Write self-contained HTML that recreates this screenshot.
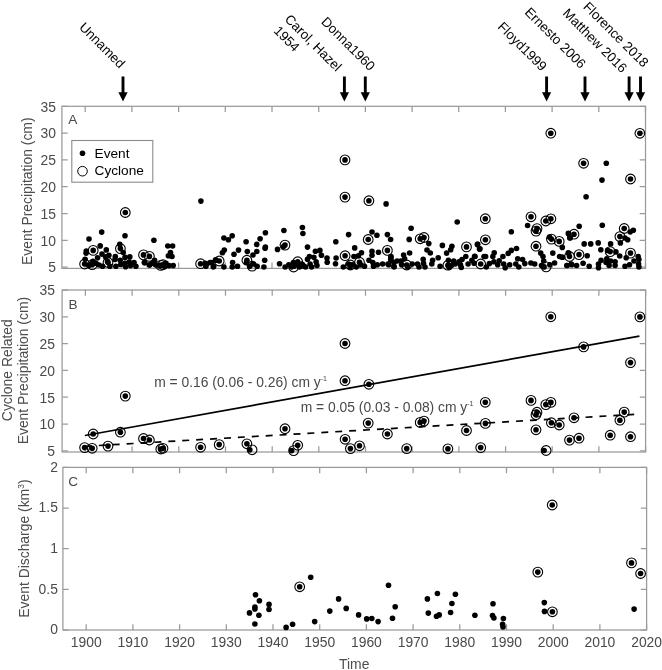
<!DOCTYPE html>
<html><head><meta charset="utf-8"><title>Figure</title>
<style>html,body{margin:0;padding:0;background:#fff}svg{display:block}text{font-family:"Liberation Sans",Arial,sans-serif}.tk{font-size:13.9px;fill:#4a4a4a}.lb{font-size:13.9px;fill:#4d4d4d}.pl{font-size:13.6px;fill:#4a4a4a}.lg{font-size:13.65px;fill:#000}.an{font-size:13.85px;fill:#484848}.rt{font-size:13.4px;fill:#000}</style></head><body>
<svg width="662" height="670" viewBox="0 0 662 670">
<rect width="662" height="670" fill="#fff"/>
<rect x="61.9" y="106.3" width="583.6" height="162.1" fill="none" stroke="#9a9a9a" stroke-width="1.25"/>
<path d="M85.2 268.4v-5.8M85.2 106.3v5.8M131.9 268.4v-5.8M131.9 106.3v5.8M178.6 268.4v-5.8M178.6 106.3v5.8M225.3 268.4v-5.8M225.3 106.3v5.8M272.0 268.4v-5.8M272.0 106.3v5.8M318.7 268.4v-5.8M318.7 106.3v5.8M365.4 268.4v-5.8M365.4 106.3v5.8M412.1 268.4v-5.8M412.1 106.3v5.8M458.7 268.4v-5.8M458.7 106.3v5.8M505.4 268.4v-5.8M505.4 106.3v5.8M552.1 268.4v-5.8M552.1 106.3v5.8M598.8 268.4v-5.8M598.8 106.3v5.8M645.5 268.4v-5.8M645.5 106.3v5.8M61.9 106.3h5.8M645.5 106.3h-5.8M61.9 133.1h5.8M645.5 133.1h-5.8M61.9 159.9h5.8M645.5 159.9h-5.8M61.9 186.7h5.8M645.5 186.7h-5.8M61.9 213.5h5.8M645.5 213.5h-5.8M61.9 240.3h5.8M645.5 240.3h-5.8M61.9 267.1h5.8M645.5 267.1h-5.8" stroke="#9a9a9a" stroke-width="1.25" fill="none"/>
<text transform="translate(56.0 111.5) scale(1 1.09)" text-anchor="end" class="tk">35</text>
<text transform="translate(56.0 138.3) scale(1 1.09)" text-anchor="end" class="tk">30</text>
<text transform="translate(56.0 165.1) scale(1 1.09)" text-anchor="end" class="tk">25</text>
<text transform="translate(56.0 191.9) scale(1 1.09)" text-anchor="end" class="tk">20</text>
<text transform="translate(56.0 218.7) scale(1 1.09)" text-anchor="end" class="tk">15</text>
<text transform="translate(56.0 245.5) scale(1 1.09)" text-anchor="end" class="tk">10</text>
<text transform="translate(56.0 272.3) scale(1 1.09)" text-anchor="end" class="tk">5</text>
<rect x="62.1" y="290.0" width="583.5" height="162.0" fill="none" stroke="#9a9a9a" stroke-width="1.25"/>
<path d="M85.4 452.0v-5.8M85.4 290.0v5.8M132.1 452.0v-5.8M132.1 290.0v5.8M178.8 452.0v-5.8M178.8 290.0v5.8M225.5 452.0v-5.8M225.5 290.0v5.8M272.2 452.0v-5.8M272.2 290.0v5.8M318.8 452.0v-5.8M318.8 290.0v5.8M365.5 452.0v-5.8M365.5 290.0v5.8M412.2 452.0v-5.8M412.2 290.0v5.8M458.9 452.0v-5.8M458.9 290.0v5.8M505.6 452.0v-5.8M505.6 290.0v5.8M552.2 452.0v-5.8M552.2 290.0v5.8M598.9 452.0v-5.8M598.9 290.0v5.8M645.6 452.0v-5.8M645.6 290.0v5.8M62.1 290.0h5.8M645.6 290.0h-5.8M62.1 316.8h5.8M645.6 316.8h-5.8M62.1 343.6h5.8M645.6 343.6h-5.8M62.1 370.4h5.8M645.6 370.4h-5.8M62.1 397.2h5.8M645.6 397.2h-5.8M62.1 424.0h5.8M645.6 424.0h-5.8M62.1 450.8h5.8M645.6 450.8h-5.8" stroke="#9a9a9a" stroke-width="1.25" fill="none"/>
<text transform="translate(55.0 295.3) scale(1 1.09)" text-anchor="end" class="tk">35</text>
<text transform="translate(55.0 322.1) scale(1 1.09)" text-anchor="end" class="tk">30</text>
<text transform="translate(55.0 348.9) scale(1 1.09)" text-anchor="end" class="tk">25</text>
<text transform="translate(55.0 375.7) scale(1 1.09)" text-anchor="end" class="tk">20</text>
<text transform="translate(55.0 402.5) scale(1 1.09)" text-anchor="end" class="tk">15</text>
<text transform="translate(55.0 429.3) scale(1 1.09)" text-anchor="end" class="tk">10</text>
<text transform="translate(55.0 456.1) scale(1 1.09)" text-anchor="end" class="tk">5</text>
<rect x="62.9" y="467.4" width="583.7" height="162.6" fill="none" stroke="#9a9a9a" stroke-width="1.25"/>
<path d="M86.2 630.0v-5.8M86.2 467.4v5.8M132.9 630.0v-5.8M132.9 467.4v5.8M179.6 630.0v-5.8M179.6 467.4v5.8M226.3 630.0v-5.8M226.3 467.4v5.8M273.0 630.0v-5.8M273.0 467.4v5.8M319.7 630.0v-5.8M319.7 467.4v5.8M366.4 630.0v-5.8M366.4 467.4v5.8M413.1 630.0v-5.8M413.1 467.4v5.8M459.8 630.0v-5.8M459.8 467.4v5.8M506.5 630.0v-5.8M506.5 467.4v5.8M553.2 630.0v-5.8M553.2 467.4v5.8M599.9 630.0v-5.8M599.9 467.4v5.8M646.6 630.0v-5.8M646.6 467.4v5.8M62.9 467.4h5.8M646.6 467.4h-5.8M62.9 508.0h5.8M646.6 508.0h-5.8M62.9 548.7h5.8M646.6 548.7h-5.8M62.9 589.4h5.8M646.6 589.4h-5.8M62.9 630.0h5.8M646.6 630.0h-5.8" stroke="#9a9a9a" stroke-width="1.25" fill="none"/>
<text transform="translate(57.9 471.5) scale(1 1.09)" text-anchor="end" class="tk">2</text>
<text transform="translate(57.9 512.1) scale(1 1.09)" text-anchor="end" class="tk">1.5</text>
<text transform="translate(57.9 552.8) scale(1 1.09)" text-anchor="end" class="tk">1</text>
<text transform="translate(57.9 593.5) scale(1 1.09)" text-anchor="end" class="tk">0.5</text>
<text transform="translate(57.9 634.1) scale(1 1.09)" text-anchor="end" class="tk">0</text>
<text transform="translate(86.2 646.8) scale(1 1.09)" text-anchor="middle" class="tk">1900</text>
<text transform="translate(132.9 646.8) scale(1 1.09)" text-anchor="middle" class="tk">1910</text>
<text transform="translate(179.6 646.8) scale(1 1.09)" text-anchor="middle" class="tk">1920</text>
<text transform="translate(226.3 646.8) scale(1 1.09)" text-anchor="middle" class="tk">1930</text>
<text transform="translate(273.0 646.8) scale(1 1.09)" text-anchor="middle" class="tk">1940</text>
<text transform="translate(319.7 646.8) scale(1 1.09)" text-anchor="middle" class="tk">1950</text>
<text transform="translate(366.4 646.8) scale(1 1.09)" text-anchor="middle" class="tk">1960</text>
<text transform="translate(413.1 646.8) scale(1 1.09)" text-anchor="middle" class="tk">1970</text>
<text transform="translate(459.8 646.8) scale(1 1.09)" text-anchor="middle" class="tk">1980</text>
<text transform="translate(506.5 646.8) scale(1 1.09)" text-anchor="middle" class="tk">1990</text>
<text transform="translate(553.2 646.8) scale(1 1.09)" text-anchor="middle" class="tk">2000</text>
<text transform="translate(599.9 646.8) scale(1 1.09)" text-anchor="middle" class="tk">2010</text>
<text transform="translate(646.6 646.8) scale(1 1.09)" text-anchor="middle" class="tk">2020</text>
<text x="354.2" y="669.3" text-anchor="middle" class="lb">Time</text>
<text x="68.2" y="123.7" class="pl">A</text>
<text x="68.6" y="308.5" class="pl">B</text>
<text x="68.2" y="486.2" class="pl">C</text>
<text transform="translate(31.7 191.2) rotate(-90)" text-anchor="middle" class="lb">Event Precipitation (cm)</text>
<text transform="translate(11.6 370.2) rotate(-90)" text-anchor="middle" class="lb">Cyclone Related</text>
<text transform="translate(28.1 370.6) rotate(-90)" text-anchor="middle" class="lb">Event Precipitation (cm)</text>
<text transform="translate(28.9 548.6) rotate(-90)" text-anchor="middle" class="lb">Event Discharge (km<tspan font-size="8.5" dy="-4.5">3</tspan><tspan dy="4.5">)</tspan></text>
<g fill="#000"><circle cx="89.0" cy="239.0" r="2.8"/><circle cx="101.7" cy="232.1" r="2.8"/><circle cx="125.0" cy="235.7" r="2.8"/><circle cx="100.2" cy="245.9" r="2.8"/><circle cx="106.3" cy="249.9" r="2.8"/><circle cx="86.3" cy="251.1" r="2.8"/><circle cx="86.1" cy="253.3" r="2.8"/><circle cx="119.8" cy="244.4" r="2.8"/><circle cx="123.2" cy="252.5" r="2.8"/><circle cx="102.0" cy="254.1" r="2.8"/><circle cx="108.9" cy="255.3" r="2.8"/><circle cx="105.6" cy="256.9" r="2.8"/><circle cx="115.3" cy="256.5" r="2.8"/><circle cx="97.6" cy="257.7" r="2.8"/><circle cx="85.1" cy="259.3" r="2.8"/><circle cx="125.0" cy="257.4" r="2.8"/><circle cx="129.8" cy="256.9" r="2.8"/><circle cx="115.0" cy="259.5" r="2.8"/><circle cx="120.2" cy="260.2" r="2.8"/><circle cx="107.5" cy="261.4" r="2.8"/><circle cx="93.0" cy="261.4" r="2.8"/><circle cx="96.0" cy="263.2" r="2.8"/><circle cx="88.7" cy="265.6" r="2.8"/><circle cx="91.8" cy="263.8" r="2.8"/><circle cx="99.0" cy="265.0" r="2.8"/><circle cx="102.6" cy="266.2" r="2.8"/><circle cx="109.9" cy="266.2" r="2.8"/><circle cx="115.9" cy="266.2" r="2.8"/><circle cx="120.8" cy="264.4" r="2.8"/><circle cx="125.0" cy="263.2" r="2.8"/><circle cx="129.2" cy="262.0" r="2.8"/><circle cx="134.0" cy="262.6" r="2.8"/><circle cx="130.4" cy="265.6" r="2.8"/><circle cx="135.9" cy="266.2" r="2.8"/><circle cx="125.6" cy="266.8" r="2.8"/><circle cx="144.3" cy="262.6" r="2.8"/><circle cx="149.2" cy="265.0" r="2.8"/><circle cx="153.9" cy="240.2" r="2.8"/><circle cx="167.8" cy="246.0" r="2.8"/><circle cx="172.6" cy="246.0" r="2.8"/><circle cx="170.5" cy="252.5" r="2.8"/><circle cx="168.4" cy="255.7" r="2.8"/><circle cx="172.0" cy="256.5" r="2.8"/><circle cx="154.5" cy="260.2" r="2.8"/><circle cx="144.8" cy="262.6" r="2.8"/><circle cx="149.7" cy="265.0" r="2.8"/><circle cx="152.1" cy="263.2" r="2.8"/><circle cx="155.7" cy="265.0" r="2.8"/><circle cx="159.3" cy="265.6" r="2.8"/><circle cx="166.0" cy="263.2" r="2.8"/><circle cx="169.0" cy="265.6" r="2.8"/><circle cx="173.2" cy="265.6" r="2.8"/><circle cx="164.8" cy="266.2" r="2.8"/><circle cx="205.3" cy="263.2" r="2.8"/><circle cx="205.9" cy="266.2" r="2.8"/><circle cx="210.1" cy="262.6" r="2.8"/><circle cx="213.7" cy="266.2" r="2.8"/><circle cx="216.1" cy="260.2" r="2.8"/><circle cx="223.9" cy="238.0" r="2.8"/><circle cx="232.2" cy="235.8" r="2.8"/><circle cx="228.4" cy="239.8" r="2.8"/><circle cx="246.1" cy="241.8" r="2.8"/><circle cx="265.4" cy="232.7" r="2.8"/><circle cx="260.1" cy="238.8" r="2.8"/><circle cx="256.7" cy="244.4" r="2.8"/><circle cx="283.9" cy="230.5" r="2.8"/><circle cx="302.4" cy="227.5" r="2.8"/><circle cx="302.9" cy="233.5" r="2.8"/><circle cx="265.4" cy="247.1" r="2.8"/><circle cx="265.1" cy="248.3" r="2.8"/><circle cx="277.5" cy="249.4" r="2.8"/><circle cx="283.5" cy="246.6" r="2.8"/><circle cx="224.3" cy="250.1" r="2.8"/><circle cx="222.4" cy="252.7" r="2.8"/><circle cx="238.5" cy="250.1" r="2.8"/><circle cx="234.0" cy="254.2" r="2.8"/><circle cx="247.3" cy="251.5" r="2.8"/><circle cx="256.8" cy="251.5" r="2.8"/><circle cx="253.0" cy="255.0" r="2.8"/><circle cx="264.7" cy="260.2" r="2.8"/><circle cx="279.5" cy="263.7" r="2.8"/><circle cx="215.6" cy="259.8" r="2.8"/><circle cx="211.8" cy="262.5" r="2.8"/><circle cx="206.5" cy="264.0" r="2.8"/><circle cx="213.3" cy="267.0" r="2.8"/><circle cx="223.9" cy="267.0" r="2.8"/><circle cx="232.6" cy="262.5" r="2.8"/><circle cx="232.2" cy="267.0" r="2.8"/><circle cx="237.5" cy="266.3" r="2.8"/><circle cx="246.5" cy="262.5" r="2.8"/><circle cx="253.3" cy="264.0" r="2.8"/><circle cx="257.1" cy="266.3" r="2.8"/><circle cx="263.9" cy="267.0" r="2.8"/><circle cx="285.1" cy="267.0" r="2.8"/><circle cx="288.8" cy="264.8" r="2.8"/><circle cx="293.4" cy="262.5" r="2.8"/><circle cx="294.1" cy="266.3" r="2.8"/><circle cx="301.7" cy="264.0" r="2.8"/><circle cx="303.9" cy="266.3" r="2.8"/><circle cx="386.1" cy="203.9" r="2.8"/><circle cx="348.6" cy="234.6" r="2.8"/><circle cx="372.0" cy="232.0" r="2.8"/><circle cx="376.9" cy="235.3" r="2.8"/><circle cx="387.4" cy="234.6" r="2.8"/><circle cx="390.6" cy="239.5" r="2.8"/><circle cx="335.8" cy="241.7" r="2.8"/><circle cx="307.5" cy="247.1" r="2.8"/><circle cx="354.7" cy="247.9" r="2.8"/><circle cx="315.4" cy="251.2" r="2.8"/><circle cx="319.9" cy="250.4" r="2.8"/><circle cx="321.4" cy="255.3" r="2.8"/><circle cx="361.5" cy="252.7" r="2.8"/><circle cx="372.0" cy="251.2" r="2.8"/><circle cx="378.5" cy="252.2" r="2.8"/><circle cx="372.0" cy="255.3" r="2.8"/><circle cx="309.4" cy="256.5" r="2.8"/><circle cx="313.9" cy="257.2" r="2.8"/><circle cx="307.5" cy="259.2" r="2.8"/><circle cx="327.0" cy="258.0" r="2.8"/><circle cx="336.1" cy="258.0" r="2.8"/><circle cx="327.2" cy="262.2" r="2.8"/><circle cx="335.5" cy="263.7" r="2.8"/><circle cx="353.9" cy="256.5" r="2.8"/><circle cx="358.4" cy="255.7" r="2.8"/><circle cx="390.9" cy="257.2" r="2.8"/><circle cx="390.9" cy="260.2" r="2.8"/><circle cx="297.3" cy="264.0" r="2.8"/><circle cx="302.6" cy="264.8" r="2.8"/><circle cx="310.1" cy="264.0" r="2.8"/><circle cx="316.1" cy="261.7" r="2.8"/><circle cx="316.9" cy="265.5" r="2.8"/><circle cx="311.6" cy="267.0" r="2.8"/><circle cx="305.6" cy="267.0" r="2.8"/><circle cx="299.5" cy="267.0" r="2.8"/><circle cx="343.3" cy="267.0" r="2.8"/><circle cx="348.6" cy="264.0" r="2.8"/><circle cx="352.4" cy="264.8" r="2.8"/><circle cx="350.1" cy="267.0" r="2.8"/><circle cx="360.7" cy="264.8" r="2.8"/><circle cx="364.5" cy="266.3" r="2.8"/><circle cx="369.0" cy="260.2" r="2.8"/><circle cx="372.8" cy="262.5" r="2.8"/><circle cx="373.5" cy="266.3" r="2.8"/><circle cx="377.3" cy="264.8" r="2.8"/><circle cx="382.6" cy="264.0" r="2.8"/><circle cx="388.7" cy="264.8" r="2.8"/><circle cx="393.9" cy="262.5" r="2.8"/><circle cx="393.9" cy="266.3" r="2.8"/><circle cx="356.2" cy="267.0" r="2.8"/><circle cx="457.2" cy="222.0" r="2.8"/><circle cx="411.1" cy="228.2" r="2.8"/><circle cx="409.2" cy="239.4" r="2.8"/><circle cx="428.8" cy="243.6" r="2.8"/><circle cx="442.4" cy="245.4" r="2.8"/><circle cx="451.9" cy="246.3" r="2.8"/><circle cx="450.7" cy="249.7" r="2.8"/><circle cx="477.4" cy="244.4" r="2.8"/><circle cx="479.9" cy="248.9" r="2.8"/><circle cx="427.0" cy="250.0" r="2.8"/><circle cx="430.3" cy="253.0" r="2.8"/><circle cx="446.6" cy="253.1" r="2.8"/><circle cx="409.6" cy="253.0" r="2.8"/><circle cx="403.6" cy="255.0" r="2.8"/><circle cx="404.6" cy="258.7" r="2.8"/><circle cx="391.0" cy="256.5" r="2.8"/><circle cx="390.7" cy="259.5" r="2.8"/><circle cx="438.2" cy="257.7" r="2.8"/><circle cx="465.8" cy="256.5" r="2.8"/><circle cx="474.6" cy="256.2" r="2.8"/><circle cx="484.0" cy="256.5" r="2.8"/><circle cx="423.2" cy="259.2" r="2.8"/><circle cx="432.6" cy="260.2" r="2.8"/><circle cx="431.8" cy="264.0" r="2.8"/><circle cx="448.4" cy="260.2" r="2.8"/><circle cx="453.7" cy="261.0" r="2.8"/><circle cx="462.0" cy="259.5" r="2.8"/><circle cx="459.0" cy="261.7" r="2.8"/><circle cx="471.9" cy="260.2" r="2.8"/><circle cx="397.1" cy="261.0" r="2.8"/><circle cx="400.9" cy="261.0" r="2.8"/><circle cx="388.0" cy="264.0" r="2.8"/><circle cx="394.1" cy="267.0" r="2.8"/><circle cx="401.6" cy="264.8" r="2.8"/><circle cx="407.7" cy="267.0" r="2.8"/><circle cx="412.2" cy="264.0" r="2.8"/><circle cx="417.5" cy="264.0" r="2.8"/><circle cx="419.0" cy="267.0" r="2.8"/><circle cx="423.5" cy="263.3" r="2.8"/><circle cx="425.0" cy="267.0" r="2.8"/><circle cx="440.1" cy="266.3" r="2.8"/><circle cx="451.5" cy="265.5" r="2.8"/><circle cx="449.2" cy="267.5" r="2.8"/><circle cx="455.2" cy="264.0" r="2.8"/><circle cx="460.5" cy="264.8" r="2.8"/><circle cx="461.3" cy="267.5" r="2.8"/><circle cx="468.1" cy="264.0" r="2.8"/><circle cx="474.1" cy="263.3" r="2.8"/><circle cx="527.6" cy="225.5" r="2.8"/><circle cx="511.3" cy="231.8" r="2.8"/><circle cx="549.5" cy="237.1" r="2.8"/><circle cx="568.7" cy="233.8" r="2.8"/><circle cx="570.2" cy="237.8" r="2.8"/><circle cx="477.7" cy="244.4" r="2.8"/><circle cx="479.5" cy="248.9" r="2.8"/><circle cx="562.3" cy="247.4" r="2.8"/><circle cx="516.5" cy="248.5" r="2.8"/><circle cx="511.3" cy="250.4" r="2.8"/><circle cx="508.2" cy="253.4" r="2.8"/><circle cx="494.2" cy="252.7" r="2.8"/><circle cx="502.9" cy="256.5" r="2.8"/><circle cx="485.6" cy="256.5" r="2.8"/><circle cx="475.0" cy="256.5" r="2.8"/><circle cx="492.8" cy="256.5" r="2.8"/><circle cx="540.7" cy="253.1" r="2.8"/><circle cx="543.0" cy="256.5" r="2.8"/><circle cx="552.8" cy="253.1" r="2.8"/><circle cx="559.6" cy="256.5" r="2.8"/><circle cx="562.6" cy="257.2" r="2.8"/><circle cx="568.7" cy="253.4" r="2.8"/><circle cx="517.7" cy="258.7" r="2.8"/><circle cx="522.6" cy="259.5" r="2.8"/><circle cx="524.8" cy="263.6" r="2.8"/><circle cx="530.9" cy="263.0" r="2.8"/><circle cx="534.7" cy="264.0" r="2.8"/><circle cx="499.2" cy="260.7" r="2.8"/><circle cx="493.9" cy="261.7" r="2.8"/><circle cx="489.4" cy="263.6" r="2.8"/><circle cx="486.3" cy="267.0" r="2.8"/><circle cx="497.7" cy="264.8" r="2.8"/><circle cx="503.7" cy="264.0" r="2.8"/><circle cx="505.2" cy="267.8" r="2.8"/><circle cx="509.7" cy="264.8" r="2.8"/><circle cx="515.8" cy="264.0" r="2.8"/><circle cx="518.8" cy="267.0" r="2.8"/><circle cx="543.7" cy="261.0" r="2.8"/><circle cx="541.5" cy="265.5" r="2.8"/><circle cx="549.8" cy="264.8" r="2.8"/><circle cx="554.6" cy="263.0" r="2.8"/><circle cx="567.1" cy="265.5" r="2.8"/><circle cx="571.7" cy="264.8" r="2.8"/><circle cx="586.1" cy="196.8" r="2.8"/><circle cx="579.2" cy="226.3" r="2.8"/><circle cx="602.3" cy="225.2" r="2.8"/><circle cx="568.3" cy="233.4" r="2.8"/><circle cx="569.8" cy="238.0" r="2.8"/><circle cx="630.2" cy="232.0" r="2.8"/><circle cx="633.3" cy="230.3" r="2.8"/><circle cx="625.0" cy="238.0" r="2.8"/><circle cx="627.7" cy="239.8" r="2.8"/><circle cx="620.4" cy="242.9" r="2.8"/><circle cx="584.2" cy="243.9" r="2.8"/><circle cx="590.7" cy="243.9" r="2.8"/><circle cx="598.2" cy="242.9" r="2.8"/><circle cx="610.6" cy="243.9" r="2.8"/><circle cx="600.8" cy="249.7" r="2.8"/><circle cx="607.6" cy="250.4" r="2.8"/><circle cx="615.9" cy="251.9" r="2.8"/><circle cx="619.7" cy="256.0" r="2.8"/><circle cx="626.2" cy="257.7" r="2.8"/><circle cx="568.3" cy="252.7" r="2.8"/><circle cx="562.3" cy="257.2" r="2.8"/><circle cx="587.2" cy="255.7" r="2.8"/><circle cx="583.1" cy="263.3" r="2.8"/><circle cx="589.2" cy="266.3" r="2.8"/><circle cx="576.6" cy="265.5" r="2.8"/><circle cx="571.3" cy="264.0" r="2.8"/><circle cx="566.8" cy="265.5" r="2.8"/><circle cx="601.1" cy="260.2" r="2.8"/><circle cx="598.5" cy="264.0" r="2.8"/><circle cx="598.5" cy="267.8" r="2.8"/><circle cx="606.8" cy="258.7" r="2.8"/><circle cx="606.1" cy="262.5" r="2.8"/><circle cx="610.6" cy="261.0" r="2.8"/><circle cx="615.1" cy="261.7" r="2.8"/><circle cx="609.1" cy="265.5" r="2.8"/><circle cx="615.1" cy="265.5" r="2.8"/><circle cx="625.0" cy="266.3" r="2.8"/><circle cx="629.5" cy="264.8" r="2.8"/><circle cx="634.0" cy="261.0" r="2.8"/><circle cx="638.2" cy="256.5" r="2.8"/><circle cx="638.9" cy="259.5" r="2.8"/><circle cx="638.6" cy="264.0" r="2.8"/><circle cx="638.9" cy="267.0" r="2.8"/><circle cx="606.3" cy="163.2" r="2.8"/><circle cx="602.0" cy="180.1" r="2.8"/><circle cx="200.9" cy="201.1" r="2.8"/></g>
<g fill="#000"><circle cx="84.6" cy="264.0" r="2.8"/><circle cx="92.2" cy="264.7" r="2.8"/><circle cx="93.2" cy="250.4" r="2.8"/><circle cx="108.0" cy="262.5" r="2.8"/><circle cx="120.4" cy="248.6" r="2.8"/><circle cx="143.5" cy="254.9" r="2.8"/><circle cx="149.4" cy="256.4" r="2.8"/><circle cx="160.8" cy="265.4" r="2.8"/><circle cx="163.0" cy="264.7" r="2.8"/><circle cx="200.6" cy="263.7" r="2.8"/><circle cx="219.2" cy="261.0" r="2.8"/><circle cx="246.9" cy="260.2" r="2.8"/><circle cx="285.0" cy="245.1" r="2.8"/><circle cx="297.7" cy="261.7" r="2.8"/><circle cx="345.1" cy="255.7" r="2.8"/><circle cx="350.4" cy="265.0" r="2.8"/><circle cx="359.5" cy="262.2" r="2.8"/><circle cx="368.2" cy="239.5" r="2.8"/><circle cx="387.4" cy="250.4" r="2.8"/><circle cx="406.7" cy="265.0" r="2.8"/><circle cx="420.2" cy="238.8" r="2.8"/><circle cx="424.0" cy="237.5" r="2.8"/><circle cx="447.9" cy="265.2" r="2.8"/><circle cx="466.5" cy="246.9" r="2.8"/><circle cx="480.7" cy="264.0" r="2.8"/><circle cx="485.4" cy="239.8" r="2.8"/><circle cx="485.3" cy="218.7" r="2.8"/><circle cx="531.0" cy="216.8" r="2.8"/><circle cx="545.8" cy="221.0" r="2.8"/><circle cx="550.9" cy="218.8" r="2.8"/><circle cx="537.0" cy="228.6" r="2.8"/><circle cx="536.0" cy="231.1" r="2.8"/><circle cx="551.4" cy="239.1" r="2.8"/><circle cx="559.2" cy="241.4" r="2.8"/><circle cx="574.0" cy="234.2" r="2.8"/><circle cx="536.0" cy="246.2" r="2.8"/><circle cx="569.5" cy="256.5" r="2.8"/><circle cx="579.0" cy="254.6" r="2.8"/><circle cx="345.0" cy="159.9" r="2.8"/><circle cx="345.0" cy="197.1" r="2.8"/><circle cx="368.9" cy="200.7" r="2.8"/><circle cx="125.3" cy="212.5" r="2.8"/><circle cx="550.8" cy="133.2" r="2.8"/><circle cx="639.9" cy="133.3" r="2.8"/><circle cx="583.6" cy="163.3" r="2.8"/><circle cx="630.5" cy="179.0" r="2.8"/><circle cx="624.2" cy="228.5" r="2.8"/><circle cx="619.9" cy="236.6" r="2.8"/><circle cx="610.2" cy="251.6" r="2.8"/><circle cx="630.5" cy="253.1" r="2.8"/><circle cx="249.8" cy="266.2" r="2.8"/><circle cx="291.7" cy="267.0" r="2.8"/><circle cx="544.1" cy="266.9" r="2.8"/></g>
<g fill="none" stroke="#000" stroke-width="1.1"><circle cx="84.6" cy="264.0" r="4.85"/><circle cx="92.2" cy="264.7" r="4.85"/><circle cx="93.2" cy="250.4" r="4.85"/><circle cx="108.0" cy="262.5" r="4.85"/><circle cx="120.4" cy="248.6" r="4.85"/><circle cx="143.5" cy="254.9" r="4.85"/><circle cx="149.4" cy="256.4" r="4.85"/><circle cx="160.8" cy="265.4" r="4.85"/><circle cx="163.0" cy="264.7" r="4.85"/><circle cx="200.6" cy="263.7" r="4.85"/><circle cx="219.2" cy="261.0" r="4.85"/><circle cx="246.9" cy="260.2" r="4.85"/><circle cx="285.0" cy="245.1" r="4.85"/><circle cx="297.7" cy="261.7" r="4.85"/><circle cx="345.1" cy="255.7" r="4.85"/><circle cx="350.4" cy="265.0" r="4.85"/><circle cx="359.5" cy="262.2" r="4.85"/><circle cx="368.2" cy="239.5" r="4.85"/><circle cx="387.4" cy="250.4" r="4.85"/><circle cx="406.7" cy="265.0" r="4.85"/><circle cx="420.2" cy="238.8" r="4.85"/><circle cx="424.0" cy="237.5" r="4.85"/><circle cx="447.9" cy="265.2" r="4.85"/><circle cx="466.5" cy="246.9" r="4.85"/><circle cx="480.7" cy="264.0" r="4.85"/><circle cx="485.4" cy="239.8" r="4.85"/><circle cx="485.3" cy="218.7" r="4.85"/><circle cx="531.0" cy="216.8" r="4.85"/><circle cx="545.8" cy="221.0" r="4.85"/><circle cx="550.9" cy="218.8" r="4.85"/><circle cx="537.0" cy="228.6" r="4.85"/><circle cx="536.0" cy="231.1" r="4.85"/><circle cx="551.4" cy="239.1" r="4.85"/><circle cx="559.2" cy="241.4" r="4.85"/><circle cx="574.0" cy="234.2" r="4.85"/><circle cx="536.0" cy="246.2" r="4.85"/><circle cx="569.5" cy="256.5" r="4.85"/><circle cx="579.0" cy="254.6" r="4.85"/><circle cx="345.0" cy="159.9" r="4.85"/><circle cx="345.0" cy="197.1" r="4.85"/><circle cx="368.9" cy="200.7" r="4.85"/><circle cx="125.3" cy="212.5" r="4.85"/><circle cx="550.8" cy="133.2" r="4.85"/><circle cx="639.9" cy="133.3" r="4.85"/><circle cx="583.6" cy="163.3" r="4.85"/><circle cx="630.5" cy="179.0" r="4.85"/><circle cx="624.2" cy="228.5" r="4.85"/><circle cx="619.9" cy="236.6" r="4.85"/><circle cx="610.2" cy="251.6" r="4.85"/><circle cx="630.5" cy="253.1" r="4.85"/><circle cx="252.1" cy="266.2" r="4.85"/><circle cx="293.6" cy="267.0" r="4.85"/><circle cx="546.1" cy="266.9" r="4.85"/></g>
<path d="M84.9 435.5L639.4 336.2" stroke="#000" stroke-width="1.7" fill="none"/>
<path d="M84.9 446.3L639.4 414.1" stroke="#000" stroke-width="1.7" stroke-dasharray="6.95 6.98" stroke-dashoffset="0" fill="none"/>
<g fill="#000"><circle cx="84.6" cy="447.6" r="2.8"/><circle cx="92.2" cy="448.3" r="2.8"/><circle cx="93.2" cy="434.0" r="2.8"/><circle cx="108.0" cy="446.1" r="2.8"/><circle cx="120.4" cy="432.2" r="2.8"/><circle cx="143.5" cy="438.5" r="2.8"/><circle cx="149.4" cy="440.0" r="2.8"/><circle cx="160.8" cy="449.0" r="2.8"/><circle cx="163.0" cy="448.3" r="2.8"/><circle cx="200.6" cy="447.3" r="2.8"/><circle cx="219.2" cy="444.6" r="2.8"/><circle cx="246.9" cy="443.8" r="2.8"/><circle cx="285.0" cy="428.7" r="2.8"/><circle cx="297.7" cy="445.3" r="2.8"/><circle cx="345.1" cy="439.3" r="2.8"/><circle cx="350.4" cy="448.6" r="2.8"/><circle cx="359.5" cy="445.8" r="2.8"/><circle cx="368.2" cy="423.1" r="2.8"/><circle cx="387.4" cy="434.0" r="2.8"/><circle cx="406.7" cy="448.6" r="2.8"/><circle cx="420.2" cy="422.4" r="2.8"/><circle cx="424.0" cy="421.1" r="2.8"/><circle cx="447.9" cy="448.8" r="2.8"/><circle cx="466.5" cy="430.5" r="2.8"/><circle cx="480.7" cy="447.6" r="2.8"/><circle cx="485.4" cy="423.4" r="2.8"/><circle cx="485.3" cy="402.3" r="2.8"/><circle cx="531.0" cy="400.4" r="2.8"/><circle cx="545.8" cy="404.6" r="2.8"/><circle cx="550.9" cy="402.4" r="2.8"/><circle cx="537.0" cy="412.2" r="2.8"/><circle cx="536.0" cy="414.7" r="2.8"/><circle cx="551.4" cy="422.7" r="2.8"/><circle cx="559.2" cy="425.0" r="2.8"/><circle cx="574.0" cy="417.8" r="2.8"/><circle cx="536.0" cy="429.8" r="2.8"/><circle cx="569.5" cy="440.1" r="2.8"/><circle cx="579.0" cy="438.2" r="2.8"/><circle cx="345.0" cy="343.5" r="2.8"/><circle cx="345.0" cy="380.7" r="2.8"/><circle cx="368.9" cy="384.3" r="2.8"/><circle cx="125.3" cy="396.1" r="2.8"/><circle cx="550.8" cy="316.8" r="2.8"/><circle cx="639.9" cy="316.9" r="2.8"/><circle cx="583.6" cy="346.9" r="2.8"/><circle cx="630.5" cy="362.6" r="2.8"/><circle cx="624.2" cy="412.1" r="2.8"/><circle cx="619.9" cy="420.2" r="2.8"/><circle cx="610.2" cy="435.2" r="2.8"/><circle cx="630.5" cy="436.7" r="2.8"/><circle cx="249.8" cy="449.8" r="2.8"/><circle cx="291.7" cy="450.6" r="2.8"/><circle cx="544.1" cy="450.5" r="2.8"/></g>
<g fill="none" stroke="#000" stroke-width="1.1"><circle cx="84.6" cy="447.6" r="4.85"/><circle cx="92.2" cy="448.3" r="4.85"/><circle cx="93.2" cy="434.0" r="4.85"/><circle cx="108.0" cy="446.1" r="4.85"/><circle cx="120.4" cy="432.2" r="4.85"/><circle cx="143.5" cy="438.5" r="4.85"/><circle cx="149.4" cy="440.0" r="4.85"/><circle cx="160.8" cy="449.0" r="4.85"/><circle cx="163.0" cy="448.3" r="4.85"/><circle cx="200.6" cy="447.3" r="4.85"/><circle cx="219.2" cy="444.6" r="4.85"/><circle cx="246.9" cy="443.8" r="4.85"/><circle cx="285.0" cy="428.7" r="4.85"/><circle cx="297.7" cy="445.3" r="4.85"/><circle cx="345.1" cy="439.3" r="4.85"/><circle cx="350.4" cy="448.6" r="4.85"/><circle cx="359.5" cy="445.8" r="4.85"/><circle cx="368.2" cy="423.1" r="4.85"/><circle cx="387.4" cy="434.0" r="4.85"/><circle cx="406.7" cy="448.6" r="4.85"/><circle cx="420.2" cy="422.4" r="4.85"/><circle cx="424.0" cy="421.1" r="4.85"/><circle cx="447.9" cy="448.8" r="4.85"/><circle cx="466.5" cy="430.5" r="4.85"/><circle cx="480.7" cy="447.6" r="4.85"/><circle cx="485.4" cy="423.4" r="4.85"/><circle cx="485.3" cy="402.3" r="4.85"/><circle cx="531.0" cy="400.4" r="4.85"/><circle cx="545.8" cy="404.6" r="4.85"/><circle cx="550.9" cy="402.4" r="4.85"/><circle cx="537.0" cy="412.2" r="4.85"/><circle cx="536.0" cy="414.7" r="4.85"/><circle cx="551.4" cy="422.7" r="4.85"/><circle cx="559.2" cy="425.0" r="4.85"/><circle cx="574.0" cy="417.8" r="4.85"/><circle cx="536.0" cy="429.8" r="4.85"/><circle cx="569.5" cy="440.1" r="4.85"/><circle cx="579.0" cy="438.2" r="4.85"/><circle cx="345.0" cy="343.5" r="4.85"/><circle cx="345.0" cy="380.7" r="4.85"/><circle cx="368.9" cy="384.3" r="4.85"/><circle cx="125.3" cy="396.1" r="4.85"/><circle cx="550.8" cy="316.8" r="4.85"/><circle cx="639.9" cy="316.9" r="4.85"/><circle cx="583.6" cy="346.9" r="4.85"/><circle cx="630.5" cy="362.6" r="4.85"/><circle cx="624.2" cy="412.1" r="4.85"/><circle cx="619.9" cy="420.2" r="4.85"/><circle cx="610.2" cy="435.2" r="4.85"/><circle cx="630.5" cy="436.7" r="4.85"/><circle cx="252.1" cy="449.8" r="4.85"/><circle cx="293.6" cy="450.6" r="4.85"/><circle cx="546.1" cy="450.5" r="4.85"/></g>
<text x="154.2" y="386.5" class="an">m = 0.16 (0.06 - 0.26) cm y<tspan font-size="7" dy="-5.2">-1</tspan></text>
<text x="300.7" y="411.6" class="an">m = 0.05 (0.03 - 0.08) cm y<tspan font-size="7" dy="-5.2">-1</tspan></text>
<g fill="#000"><circle cx="299.7" cy="586.8" r="2.8"/><circle cx="537.8" cy="572.1" r="2.8"/><circle cx="552.4" cy="611.8" r="2.8"/><circle cx="552.2" cy="505.0" r="2.8"/><circle cx="631.5" cy="562.9" r="2.8"/><circle cx="640.6" cy="573.5" r="2.8"/><circle cx="255.5" cy="594.8" r="2.8"/><circle cx="259.4" cy="600.8" r="2.8"/><circle cx="254.9" cy="607.1" r="2.8"/><circle cx="254.9" cy="608.9" r="2.8"/><circle cx="269.0" cy="604.4" r="2.8"/><circle cx="269.0" cy="609.5" r="2.8"/><circle cx="249.5" cy="612.9" r="2.8"/><circle cx="258.9" cy="615.3" r="2.8"/><circle cx="254.9" cy="624.0" r="2.8"/><circle cx="286.1" cy="627.4" r="2.8"/><circle cx="292.6" cy="624.3" r="2.8"/><circle cx="310.7" cy="577.2" r="2.8"/><circle cx="314.7" cy="621.6" r="2.8"/><circle cx="329.8" cy="611.1" r="2.8"/><circle cx="338.6" cy="598.9" r="2.8"/><circle cx="346.2" cy="608.4" r="2.8"/><circle cx="358.6" cy="614.9" r="2.8"/><circle cx="366.7" cy="618.9" r="2.8"/><circle cx="371.8" cy="618.5" r="2.8"/><circle cx="378.1" cy="621.6" r="2.8"/><circle cx="388.5" cy="585.3" r="2.8"/><circle cx="395.2" cy="606.7" r="2.8"/><circle cx="392.5" cy="618.3" r="2.8"/><circle cx="427.4" cy="598.9" r="2.8"/><circle cx="437.4" cy="593.5" r="2.8"/><circle cx="428.3" cy="613.1" r="2.8"/><circle cx="436.5" cy="616.2" r="2.8"/><circle cx="439.2" cy="614.9" r="2.8"/><circle cx="450.6" cy="612.5" r="2.8"/><circle cx="451.9" cy="603.5" r="2.8"/><circle cx="455.4" cy="594.2" r="2.8"/><circle cx="474.9" cy="615.3" r="2.8"/><circle cx="493.0" cy="603.8" r="2.8"/><circle cx="492.5" cy="615.6" r="2.8"/><circle cx="493.9" cy="618.0" r="2.8"/><circle cx="503.4" cy="618.5" r="2.8"/><circle cx="502.6" cy="624.3" r="2.8"/><circle cx="503.0" cy="627.0" r="2.8"/><circle cx="544.3" cy="602.6" r="2.8"/><circle cx="544.5" cy="611.4" r="2.8"/><circle cx="634.1" cy="609.1" r="2.8"/></g>
<g fill="none" stroke="#000" stroke-width="1.1"><circle cx="299.7" cy="586.8" r="4.85"/><circle cx="537.8" cy="572.1" r="4.85"/><circle cx="552.4" cy="611.8" r="4.85"/><circle cx="552.2" cy="505.0" r="4.85"/><circle cx="631.5" cy="562.9" r="4.85"/><circle cx="640.6" cy="573.5" r="4.85"/></g>
<rect x="71.8" y="140.5" width="81" height="41.7" fill="#fff" stroke="#8a8a8a" stroke-width="1.1"/>
<circle cx="82.5" cy="153.2" r="2.8" fill="#000"/>
<circle cx="82.5" cy="171.2" r="4.8" fill="none" stroke="#000" stroke-width="1"/>
<text x="94.6" y="158.1" class="lg">Event</text>
<text x="94.6" y="174.8" class="lg">Cyclone</text>
<path d="M123.0 76.5V93" stroke="#000" stroke-width="2.9" fill="none"/><path d="M118.4 92.3L123.0 101.4L127.6 92.3Z" fill="#000"/>
<path d="M344.4 76.5V93" stroke="#000" stroke-width="2.9" fill="none"/><path d="M339.79999999999995 92.3L344.4 101.4L349.0 92.3Z" fill="#000"/>
<path d="M365.3 76.5V93" stroke="#000" stroke-width="2.9" fill="none"/><path d="M360.7 92.3L365.3 101.4L369.90000000000003 92.3Z" fill="#000"/>
<path d="M546.6 76.5V93" stroke="#000" stroke-width="2.9" fill="none"/><path d="M542.0 92.3L546.6 101.4L551.2 92.3Z" fill="#000"/>
<path d="M585.0 76.5V93" stroke="#000" stroke-width="2.9" fill="none"/><path d="M580.4 92.3L585.0 101.4L589.6 92.3Z" fill="#000"/>
<path d="M629.1 76.5V93" stroke="#000" stroke-width="2.9" fill="none"/><path d="M624.5 92.3L629.1 101.4L633.7 92.3Z" fill="#000"/>
<path d="M640.5 76.5V93" stroke="#000" stroke-width="2.9" fill="none"/><path d="M635.9 92.3L640.5 101.4L645.1 92.3Z" fill="#000"/>
<text transform="translate(78.5 28) rotate(45)" class="rt">Unnamed</text>
<text transform="translate(284 20) rotate(45)" class="rt">Carol, Hazel</text>
<text transform="translate(273 31.5) rotate(45)" class="rt">1954</text>
<text transform="translate(320.5 22.5) rotate(45)" class="rt">Donna1960</text>
<text transform="translate(497 27.5) rotate(45)" class="rt">Floyd1999</text>
<text transform="translate(524 13) rotate(45)" class="rt">Ernesto 2006</text>
<text transform="translate(562 14) rotate(45)" class="rt">Matthew 2016</text>
<text transform="translate(582.5 7.5) rotate(45)" class="rt">Florence 2018</text>
</svg></body></html>
